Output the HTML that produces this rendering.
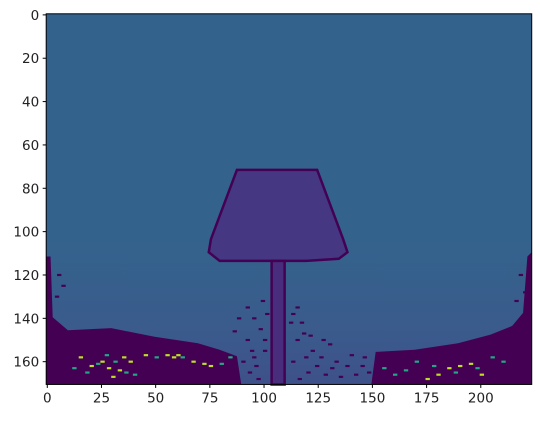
<!DOCTYPE html>
<html><head><meta charset="utf-8"><style>
body{margin:0;background:#fff;width:540px;height:417px;overflow:hidden}
svg text{font-family:"DejaVu Sans","Liberation Sans",sans-serif;font-size:13.5px;fill:#222}
</style></head><body>
<svg id="chart" width="540" height="417" xmlns="http://www.w3.org/2000/svg"></svg>
<script>
const xTicks=[0,25,50,75,100,125,150,175,200];
const yTicks=[0,20,40,60,80,100,120,140,160];
const imgW=224, imgH=171;
const shade=[[88,72],[125,72],[137,104],[139,110],[135,113],[120,114],[80,114],[75,110],[76,104]];
const pole=[[104,114],[110,114],[110,171],[104,171]];
const darkLeft=[[0,112],[2,112],[3,140],[10,146],[30,145],[50,149],[70,152],[80,155],[88,158],[90,171],[0,171]];
const darkRight=[[150,171],[152,156],[170,155],[190,152],[205,148],[215,144],[220,138],[222,112],[224,110],[224,171]];
const yellow=[[15,158],[20,162],[25,160],[28,163],[30,167],[33,164],[35,158],[38,160],[45,157],[55,157],[58,158],[60,157],[67,160],[72,161],[75,162],[175,168],[180,166],[185,163],[190,162],[195,161],[200,166]];
const cyan=[[12,163],[18,165],[23,161],[27,157],[31,160],[36,165],[40,166],[50,158],[62,158],[80,161],[84,158],[155,163],[160,166],[165,164],[170,160],[178,162],[188,165],[198,163],[205,158],[210,160]];
const speck=[[95,140],[98,145],[92,150],[100,155],[112,142],[115,150],[118,147],[122,155],[126,158],[130,152],[133,160],[140,157],[145,162],[96,162],[120,165],[135,167],[92,135],[115,135],[90,160],[93,165],[97,168],[100,150],[94,155],[113,160],[116,168],[119,158],[124,162],[128,166],[131,163],[138,162],[142,166],[146,158],[148,165],[101,138],[113,138],[117,142],[121,148],[127,150],[99,132],[88,140],[86,146],[95,158],[5,120],[7,125],[4,130],[218,120],[220,128],[216,132]];

const svg=document.getElementById('chart');
const NS='http://www.w3.org/2000/svg';
const L=46.2,T=13.8,S=2.1675;
const sx=v=>L+v*S, sy=v=>T+v*S;
function mk(tag,attrs,parent){const e=document.createElementNS(NS,tag);for(const k in attrs)e.setAttribute(k,attrs[k]);(parent||svg).appendChild(e);return e;}
const defs=mk('defs',{});
const g=mk('linearGradient',{id:'bg',x1:0,y1:0,x2:0,y2:1},defs);
mk('stop',{offset:'0','stop-color':'#33638d'},g);
mk('stop',{offset:'0.6','stop-color':'#33638d'},g);
mk('stop',{offset:'0.85','stop-color':'#3a5b8c'},g);
mk('stop',{offset:'1','stop-color':'#3e518a'},g);
const bg=mk('rect',{x:sx(0),y:sy(0),width:imgW*S,height:imgH*S,fill:'url(#bg)'});


function poly(pts,fill,name,stroke){const p=mk('polygon',{points:pts.map(q=>sx(q[0])+','+sy(q[1])).join(' '),fill:fill});if(stroke){p.setAttribute('stroke',stroke);p.setAttribute('stroke-width','2.5');}

return p;}
poly(darkLeft,'#440154','dark-region-left');
poly(darkRight,'#440154','dark-region-right');
poly(shade,'#453781','lamp-shade','#440154');
poly(pole,'#472d7b','lamp-pole','#440154');
function dots(arr,col,name){arr.forEach(d=>{const r=mk('rect',{x:sx(d[0]),y:sy(d[1]),width:S*2,height:S,fill:col});

});}
dots(speck,'#440154','speckle-dark');
dots(cyan,'#22a884','speckle-cyan');
dots(yellow,'#bddf26','speckle-yellow');
const fr=mk('rect',{x:sx(0),y:sy(0),width:imgW*S,height:imgH*S,fill:'none',stroke:'#000','stroke-width':1});


xTicks.forEach(v=>{const px=L+(v+0.5)*S;
mk('line',{x1:px,y1:sy(imgH),x2:px,y2:sy(imgH)+3.5,stroke:'#000'});
const t=mk('text',{x:px,y:sy(imgH)+18,'text-anchor':'middle'});t.textContent=v;

});
yTicks.forEach(v=>{const py=T+(v+0.5)*S;
mk('line',{x1:L-3.5,y1:py,x2:L,y2:py,stroke:'#000'});
const t=mk('text',{x:L-7,y:py+5,'text-anchor':'end'});t.textContent=v;

});
</script>
</body></html>
